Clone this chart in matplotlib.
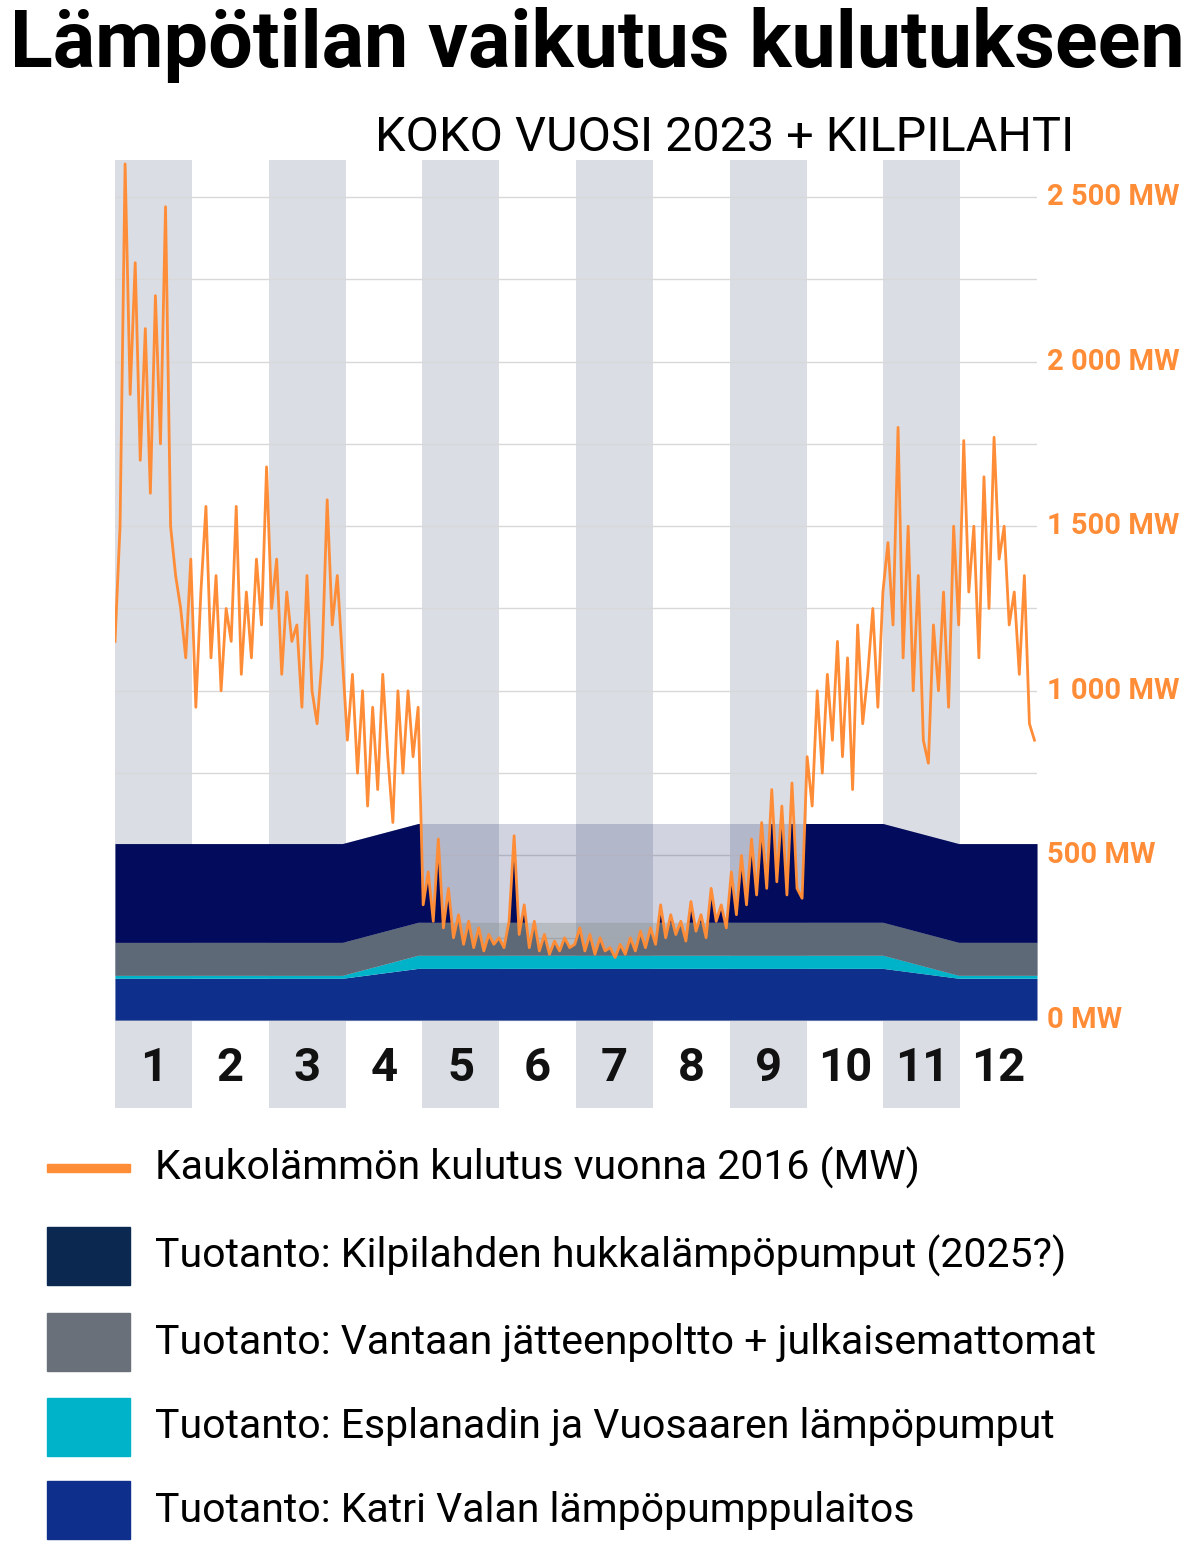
import numpy as np
import matplotlib.pyplot as plt
from matplotlib import font_manager
from matplotlib.patches import Rectangle

names = {f.name for f in font_manager.fontManager.ttflist}
FONT = "Liberation Sans Narrow" if "Liberation Sans Narrow" in names else "Roboto"
plt.rcParams["font.family"] = FONT

# district heat consumption 2016, sampled every 2 days (MW)
consumption = [
    1150, 1500, 2600, 1900, 2300, 1700, 2100, 1600, 2200, 1750, 2470, 1500, 1350, 1250, 1100, 1400,
    950, 1300, 1560, 1100, 1350, 1000, 1250, 1150, 1560, 1050, 1300, 1100, 1400, 1200,
    1680, 1250, 1400, 1050, 1300, 1150, 1200, 950, 1350, 1000, 900, 1100, 1580, 1200, 1350, 1100,
    850, 1050, 750, 1000, 650, 950, 700, 1050, 800, 600, 1000, 750, 1000, 800, 950,
    350, 450, 300, 550, 280, 400, 250, 320, 230, 300, 220, 280, 210, 260, 230,
    250, 220, 300, 560, 260, 350, 220, 300, 210, 260, 200, 240, 210, 250, 220,
    230, 280, 210, 260, 200, 250, 210, 220, 190, 230, 200, 250, 210, 270, 220,
    280, 230, 350, 250, 320, 260, 300, 240, 360, 270, 320, 250, 400, 300, 350, 280,
    450, 320, 500, 350, 550, 380, 600, 400, 700, 420, 650, 380, 720, 400, 370,
    800, 650, 1000, 750, 1050, 850, 1150, 800, 1100, 700, 1200, 900, 1050, 1250, 950, 1300,
    1450, 1200, 1800, 1100, 1500, 1000, 1350, 850, 780, 1200, 1000, 1300, 950, 1500, 1200,
    1760, 1300, 1500, 1100, 1650, 1250, 1770, 1400, 1500, 1200, 1300, 1050, 1350, 900, 850,
]
days = np.arange(len(consumption)) * 2.0

# production layers, breakpoints (day of year) -> MW
stack_days = [0, 90, 120, 304, 334, 365]
katri_vala = [127, 127, 157, 157, 127, 127]
esplanadi = [9, 9, 40, 40, 9, 9]
vantaa = [100, 100, 100, 100, 100, 100]
kilpilahti = [300, 300, 300, 300, 300, 300]

months = [str(m) for m in range(1, 13)]
month_len = 365 / 12
yticks = [0, 500, 1000, 1500, 2000, 2500]
ytick_labels = ["0 MW", "500 MW", "1 000 MW", "1 500 MW", "2 000 MW", "2 500 MW"]

ORANGE = "#ff8c37"
NAVY = "#020b5c"
GREY = "#5d6977"
CYAN = "#00b3c9"
BLUE = "#0e2f8c"
BAND = "#dadde3"

fig = plt.figure(figsize=(11.99, 15.48), dpi=100)
W, H = 1199, 1548
ax = fig.add_axes([115 / W, 1 - 1108 / H, 922 / W, (1108 - 160) / H])
ax.set_xlim(0, 365)
ax.set_ylim(-267, 2612)
ax.axis("off")

for i in range(0, 12, 2):
    ax.axvspan(i * month_len, (i + 1) * month_len, color=BAND, lw=0, zorder=0)
for v in np.arange(0, 2501, 250):
    ax.plot([0, 365], [v, v], color="#d8d8d8", lw=1, zorder=1)

xs = np.linspace(0, 365, 1500)
cons = np.interp(xs, days, consumption)
l1 = np.interp(xs, stack_days, katri_vala)
l2 = l1 + np.interp(xs, stack_days, esplanadi)
l3 = l2 + np.interp(xs, stack_days, vantaa)
l4 = l3 + np.interp(xs, stack_days, kilpilahti)

ax.fill_between(xs, 0, l1, color=BLUE, lw=0, zorder=2)
ax.fill_between(xs, l1, l2, color=CYAN, lw=0, zorder=2)
ax.fill_between(xs, l2, l3, color=GREY, alpha=0.45, lw=0, zorder=2)
ax.fill_between(xs, l2, np.clip(cons, l2, l3), color=GREY, lw=0, zorder=2)
ax.fill_between(xs, l3, l4, color=NAVY, alpha=0.18, lw=0, zorder=2)
ax.fill_between(xs, l3, np.clip(cons, l3, l4), color=NAVY, lw=0, zorder=2)
ax.plot(days, consumption, color=ORANGE, lw=2, zorder=3)

for i, m in enumerate(months):
    ax.text((i + 0.5) * month_len, -145, m, ha="center", va="center",
            fontsize=34, fontweight="bold", color="#111111")
for v, lab in zip(yticks, ytick_labels):
    ax.text(369, v, lab, ha="left", va="center", fontsize=21,
            fontweight="bold", color=ORANGE, clip_on=False)

fig.text(597 / W, 1 - 45 / H, "Lämpötilan vaikutus kulutukseen", ha="center",
         va="center", fontsize=57, fontweight="bold")
fig.text(725 / W, 1 - 138 / H, "KOKO VUOSI 2023 + KILPILAHTI", ha="center",
         va="center", fontsize=35)

legend = [
    ("line", ORANGE, "Kaukolämmön kulutus vuonna 2016 (MW)", 1168),
    ("box", "#0a2850", "Tuotanto: Kilpilahden hukkalämpöpumput (2025?)", 1256),
    ("box", "#6a7079", "Tuotanto: Vantaan jätteenpoltto + julkaisemattomat", 1342),
    ("box", CYAN, "Tuotanto: Esplanadin ja Vuosaaren lämpöpumput", 1427),
    ("box", BLUE, "Tuotanto: Katri Valan lämpöpumppulaitos", 1510),
]
for kind, col, text, y in legend:
    if kind == "line":
        fig.add_artist(Rectangle((47 / W, 1 - (y + 4) / H), 83 / W, 8 / H,
                                 color=col, transform=fig.transFigure))
    else:
        fig.add_artist(Rectangle((47 / W, 1 - (y + 29) / H), 83 / W, 58 / H,
                                 color=col, transform=fig.transFigure))
    fig.text(155 / W, 1 - y / H, text, ha="left", va="center", fontsize=29.5)

fig.savefig("out.png", dpi=100)
